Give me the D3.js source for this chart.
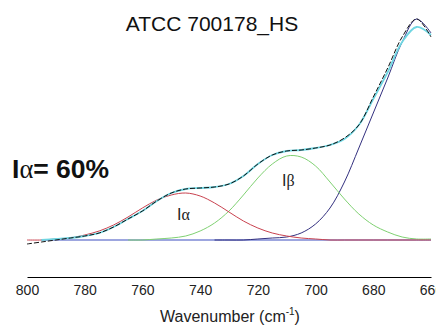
<!DOCTYPE html>
<html>
<head>
<meta charset="utf-8">
<script src="https://cdn.jsdelivr.net/npm/d3@7"></script>
<style>
  body { margin: 0; background: #fff; }
  svg { display: block; font-family: "Liberation Sans", Arial, sans-serif; }
  .axis .domain { stroke: #000; stroke-width: 1; }
  .axis text { font-size: 14px; fill: #222; font-family: "Liberation Sans", Arial, sans-serif; }
</style>
</head>
<body>
<div id="chart"></div>
<script>
// wavenumber grid (cm-1), read every 5 cm-1
var wavenumbers = [800,795,790,785,780,775,770,765,760,755,750,745,740,735,730,
                   725,720,715,710,705,700,695,690,685,680,675,670,665,660];

// measured spectrum (black, dashed look)
var measured = [-0.004,-0.002,0.000,0.002,0.004,0.007,0.013,0.021,0.029,0.039,0.047,0.051,0.052,0.053,0.056,
                0.064,0.076,0.085,0.089,0.090,0.092,0.095,0.102,0.115,0.143,0.172,0.203,0.221,0.203];

// fitted sum (cyan)
var fitted = [null,0.000,0.001,0.002,0.004,0.007,0.013,0.021,0.029,0.039,0.047,0.051,0.052,0.053,0.056,
              0.064,0.076,0.085,0.089,0.090,0.092,0.095,0.101,0.115,0.141,0.168,0.198,0.213,0.205];

// I-alpha band (red)
var alphaBand = [0.000,0.000,0.001,0.002,0.005,0.009,0.015,0.023,0.032,0.040,0.045,0.047,0.044,0.037,0.028,
                 0.019,0.012,0.007,0.004,0.002,0.001,0.000,0.000,0.000,0.000,0.000,0.000,0.000,0.000];

// I-beta band (green)
var betaBand = [null,null,null,null,null,null,null,0.000,0.000,0.001,0.002,0.004,0.009,0.017,0.029,
                0.045,0.062,0.076,0.084,0.083,0.074,0.058,0.041,0.026,0.015,0.008,0.003,0.001,0.001];

// band near 665 cm-1 (indigo)
var band665 = [null,null,null,null,null,null,null,null,null,null,null,null,null,0.000,0.000,
               0.000,0.001,0.002,0.003,0.007,0.016,0.032,0.058,0.092,0.127,0.162,0.198,0.221,0.207];

// flat baseline (blue)
var baselineWn = [795, 660];
var baselineVals = [0, 0];

var xTicks = [800,780,760,740,720,700,680,660];

var width = 436, height = 327;

var svg = d3.select("#chart").append("svg")
    .attr("width", width)
    .attr("height", height);

var x = d3.scaleLinear().domain([800, 660]).range([27, 431]);
var y = d3.scaleLinear().domain([0, 0.22]).range([240, 20]);

function lineFor(vals, wns) {
    wns = wns || wavenumbers;
    var pts = wns.map(function(w, i){ return [w, vals[i]]; });
    var gen = d3.line()
        .defined(function(d){ return d[1] !== null; })
        .x(function(d){ return x(d[0]); })
        .y(function(d){ return y(d[1]); })
        .curve(d3.curveCatmullRom.alpha(0.5));
    return gen(pts);
}

var curves = svg.append("g").attr("fill", "none");

curves.append("path").attr("d", lineFor(baselineVals, baselineWn))
    .attr("stroke", "#3d4fbf").attr("stroke-width", 1.2);
curves.append("path").attr("d", lineFor(band665))
    .attr("stroke", "#33307f").attr("stroke-width", 1);
curves.append("path").attr("d", lineFor(betaBand))
    .attr("stroke", "#7fd172").attr("stroke-width", 1);
curves.append("path").attr("d", lineFor(alphaBand))
    .attr("stroke", "#c9424f").attr("stroke-width", 1);
curves.append("path").attr("d", lineFor(fitted))
    .attr("stroke", "#6fd6e2").attr("stroke-width", 1.8);
curves.append("path").attr("d", lineFor(measured))
    .attr("stroke", "#111").attr("stroke-width", 1)
    .attr("stroke-dasharray", "5,2");

// x axis
var axis = svg.append("g")
    .attr("class", "axis")
    .attr("transform", "translate(0,277)")
    .call(d3.axisBottom(x).tickValues(xTicks).tickSize(0).tickSizeOuter(0).tickPadding(8)
        .tickFormat(d3.format("d")));

// title
svg.append("text")
    .attr("x", 212).attr("y", 31)
    .attr("text-anchor", "middle")
    .attr("font-size", 21)
    .attr("fill", "#111")
    .text("ATCC 700178_HS");

// axis label
var xl = svg.append("text")
    .attr("x", 230).attr("y", 322)
    .attr("text-anchor", "middle")
    .attr("font-size", 16)
    .attr("fill", "#222");
xl.append("tspan").text("Wavenumber (cm");
xl.append("tspan").attr("font-size", 10).attr("dy", -7).text("-1");
xl.append("tspan").attr("dy", 7).text(")");

// I-alpha percentage
var pct = svg.append("text")
    .attr("x", 12).attr("y", 178)
    .attr("font-size", 26.5)
    .attr("font-weight", "bold")
    .attr("fill", "#111");
pct.append("tspan").text("I");
pct.append("tspan").attr("font-family", "Liberation Serif, serif").attr("font-weight", "normal").text("\u03b1");
pct.append("tspan").text("= 60%");

// band labels
var la = svg.append("text")
    .attr("x", 177).attr("y", 220)
    .attr("font-size", 16).attr("fill", "#222");
la.append("tspan").text("I");
la.append("tspan").attr("font-family", "Liberation Serif, serif").text("\u03b1");

var lb = svg.append("text")
    .attr("x", 282).attr("y", 186)
    .attr("font-size", 16).attr("fill", "#222");
lb.append("tspan").text("I");
lb.append("tspan").attr("font-family", "Liberation Serif, serif").text("\u03b2");
</script>
</body>
</html>
